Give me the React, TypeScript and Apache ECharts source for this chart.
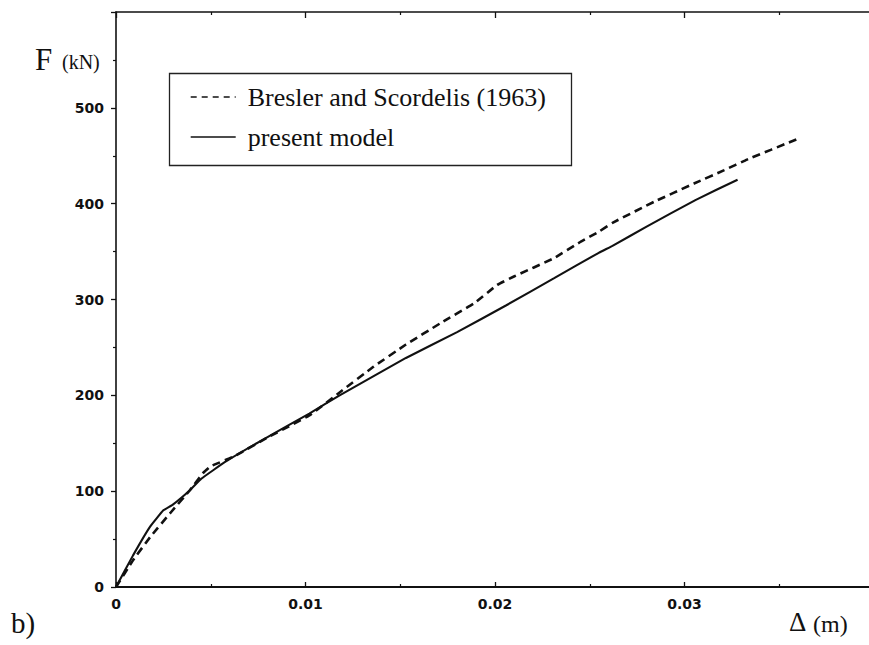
import React, { useEffect, useRef } from "react";
import * as echarts from "echarts";

const seriesNames = ["Bresler and Scordelis (1963)", "present model"];

const deltaBresler = [0, 0.0009, 0.0018, 0.0029, 0.0039, 0.0046, 0.005, 0.0062, 0.008, 0.0102, 0.0118, 0.0136, 0.0153, 0.0171, 0.0189, 0.0201, 0.021, 0.0231, 0.0245, 0.0255, 0.0262, 0.0284, 0.0305, 0.0321, 0.0333, 0.0359];
const forceBresler = [0, 28, 52, 78, 101, 119, 126, 136, 156, 179, 203, 230, 253, 275, 296, 315, 324, 343, 360, 371, 380, 402, 421, 435, 446, 467];

const deltaModel = [0, 0.0009, 0.0018, 0.0025, 0.003, 0.0039, 0.0045, 0.0058, 0.0076, 0.0102, 0.0118, 0.0153, 0.018, 0.0206, 0.0231, 0.0255, 0.0262, 0.028, 0.0306, 0.0328];
const forceModel = [0, 33, 63, 80, 86, 101, 113, 131, 152, 181, 200, 239, 266, 294, 322, 349, 356, 376, 404, 425];

const xMin = 0;
const xMax = 0.04;
const xInterval = 0.01;
const yMin = 0;
const yMax = 600;
const yInterval = 100;

const tickFont = { fontFamily: "DejaVu Sans", fontWeight: "bold" as const, fontSize: 14, color: "#111" };
const serif = "Liberation Serif";

export default function App() {
  const ref = useRef<HTMLDivElement>(null);
  useEffect(() => {
    if (!ref.current) return;
    const chart = echarts.init(ref.current, undefined, { renderer: "svg" });
    const axisLine = { show: true, lineStyle: { color: "#111", width: 1.6 } };
    const hiddenSymbol = { color: "rgba(0,0,0,0)", borderColor: "rgba(0,0,0,0)", borderWidth: 0 };
    chart.setOption({
      animation: false,
      backgroundColor: "#fff",
      grid: { left: 116, right: 6, top: 12, bottom: 58, containLabel: false, outerBoundsMode: "none" },
      xAxis: [
        {
          type: "value",
          position: "bottom",
          min: xMin,
          max: xMax,
          interval: xInterval,
          axisLine: { show: true, lineStyle: { color: "#111", width: 2 } },
          axisTick: { show: true, inside: true, length: 5, lineStyle: { color: "#111", width: 1.3 } },
          minorTick: { show: true, splitNumber: 2, length: 3, lineStyle: { color: "#111", width: 1.2 } },
          splitLine: { show: false },
          minorSplitLine: { show: false },
          axisLabel: {
            ...tickFont,
            margin: 10,
            showMaxLabel: false,
            formatter: (v: number) => (v === 0 ? "0" : v.toFixed(2)),
          },
        },
        {
          type: "value",
          position: "top",
          min: xMin,
          max: xMax,
          interval: xInterval,
          axisLine: axisLine,
          axisTick: { show: true, inside: true, length: 6, lineStyle: { color: "#111", width: 1.3 } },
          minorTick: { show: true, splitNumber: 2, length: 3, lineStyle: { color: "#111", width: 1.2 } },
          splitLine: { show: false },
          minorSplitLine: { show: false },
          axisLabel: { show: false },
        },
      ],
      yAxis: {
        type: "value",
        min: yMin,
        max: yMax,
        interval: yInterval,
        axisLine: axisLine,
        axisTick: { show: true, inside: false, length: 5, lineStyle: { color: "#111", width: 1.3 } },
        minorTick: { show: true, splitNumber: 2, length: 3, lineStyle: { color: "#111", width: 1.2 } },
        splitLine: { show: false },
        minorSplitLine: { show: false },
        axisLabel: { ...tickFont, margin: 12, showMaxLabel: false },
      },
      legend: {
        orient: "vertical",
        left: 190,
        top: 84,
        padding: 0,
        itemWidth: 45,
        itemHeight: 26,
        itemGap: 14,
        selectedMode: false,
        itemStyle: hiddenSymbol,
        textStyle: { fontFamily: serif, fontSize: 26, color: "#111", padding: [0, 0, 0, 7] },
        data: [
          { name: seriesNames[0], itemStyle: hiddenSymbol, lineStyle: { color: "#111", width: 1.4, type: [6, 5] } },
          { name: seriesNames[1], itemStyle: hiddenSymbol, lineStyle: { color: "#111", width: 1.4 } },
        ],
      },
      series: [
        {
          name: seriesNames[0],
          type: "line",
          xAxisIndex: 0,
          symbol: "none",
          smooth: 0.1,
          data: deltaBresler.map((d, i) => [d, forceBresler[i]]),
          lineStyle: { color: "#111", width: 2.6, type: [8, 5] },
          itemStyle: { color: "#111" },
        },
        {
          name: seriesNames[1],
          type: "line",
          xAxisIndex: 0,
          symbol: "none",
          smooth: 0.1,
          data: deltaModel.map((d, i) => [d, forceModel[i]]),
          lineStyle: { color: "#111", width: 2.1, type: "solid" },
          itemStyle: { color: "#111" },
        },
      ],
      graphic: [
        {
          type: "rect",
          shape: { x: 169.5, y: 73.5, width: 402, height: 92 },
          style: { fill: "none", stroke: "#222", lineWidth: 1.3 },
          z: 10,
        },
        { type: "text", x: 35, y: 59.5, style: { text: "F", font: `31px '${serif}'`, fill: "#111", verticalAlign: "middle" } },
        { type: "text", x: 62, y: 61.5, style: { text: "(kN)", font: `20px '${serif}'`, fill: "#111", verticalAlign: "middle" } },
        { type: "text", x: 789, y: 622, style: { text: "Δ", font: `27px '${serif}'`, fill: "#111", verticalAlign: "middle" } },
        { type: "text", x: 813, y: 623.5, style: { text: "(m)", font: `24px '${serif}'`, fill: "#111", verticalAlign: "middle" } },
        { type: "text", x: 11, y: 622.5, style: { text: "b)", font: `29px '${serif}'`, fill: "#111", verticalAlign: "middle" } },
      ],
    });
    return () => chart.dispose();
  }, []);
  return (
    <div style={{ position: "fixed", left: 0, top: 0, width: 869, height: 645, overflow: "hidden", background: "#fff" }}>
      <div ref={ref} style={{ width: 880, height: 645 }} />
    </div>
  );
}
